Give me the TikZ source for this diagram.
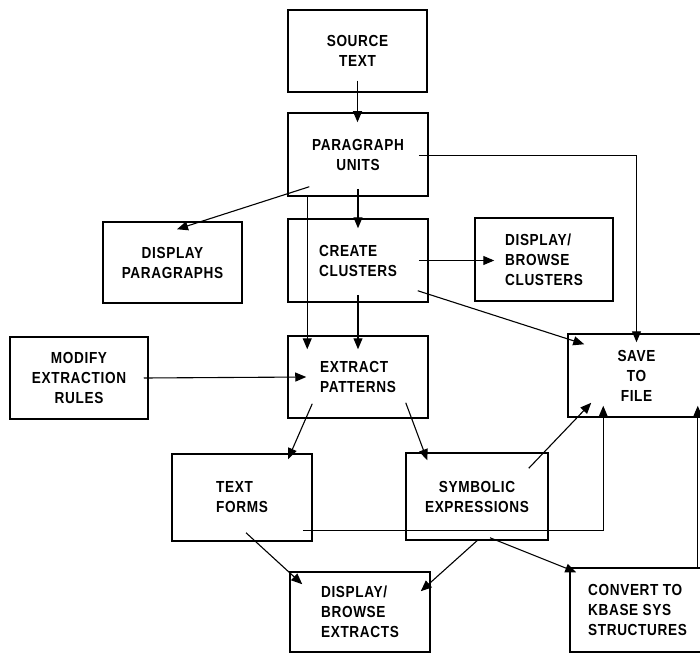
\documentclass[tikz,border=0pt]{standalone}
\usepackage{fontspec}
\setmainfont{Liberation Sans}[FakeStretch=0.85,LetterSpace=4]
\usetikzlibrary{arrows.meta,calc}
\begin{document}
\begin{tikzpicture}[x=1pt,y=-1pt,
  boxnode/.style={draw,line width=1.5pt,inner sep=0pt,
    font=\fontsize{16}{20}\selectfont\bfseries},
  conn/.style={line width=1.1pt,-{Triangle[length=11pt,width=9pt]}}]
\useasboundingbox (0,0) rectangle (700,655);
\fill[white] (0,0) rectangle (700,655);
% boxes
\node[boxnode,minimum width=139pt,minimum height=82pt,align=center] (src) at (357.5,51) {SOURCE\\TEXT};
\node[boxnode,minimum width=140pt,minimum height=83pt,align=center] (par) at (358,154.5) {PARAGRAPH\\UNITS};
\node[boxnode,minimum width=139pt,minimum height=81pt,align=center] (dpar) at (172.5,262.5) {DISPLAY\\PARAGRAPHS};
\node[boxnode,minimum width=140pt,minimum height=83pt,align=left] (cc) at (358,260.5) {CREATE\\CLUSTERS};
\node[boxnode,minimum width=138pt,minimum height=83pt,align=left] (dbc) at (544,259.5) {DISPLAY/\\BROWSE\\CLUSTERS};
\node[boxnode,minimum width=138pt,minimum height=82pt,align=center] (mod) at (79,378) {MODIFY\\EXTRACTION\\RULES};
\node[boxnode,minimum width=140pt,minimum height=82pt,align=left] (ext) at (358,377) {EXTRACT\\PATTERNS};
\node[boxnode,minimum width=137pt,minimum height=83pt,align=center] (save) at (636.5,375.5) {SAVE\\TO\\FILE};
\node[boxnode,minimum width=140pt,minimum height=87pt,align=left] (tf) at (242,497.5) {TEXT\\FORMS};
\node[boxnode,minimum width=142pt,minimum height=87pt,align=center] (sym) at (477,496.5) {SYMBOLIC\\EXPRESSIONS};
\node[boxnode,minimum width=140pt,minimum height=80pt,align=left] (dbe) at (360,612) {DISPLAY/\\BROWSE\\EXTRACTS};
\node[boxnode,minimum width=135pt,minimum height=84pt,align=left] (conv) at (637.5,610) {CONVERT TO\\ KBASE SYS\\STRUCTURES};
% connectors
\draw[conn] ($(src.south)+(0,-12)$) -- ($(par.north)+(-0.5,10)$);
\draw[conn] ($(par.south)+(0,-8)$) -- ($(cc.north)+(0,10)$);
\draw[conn] ($(par.south west)+(22,-10)$) -- ($(dpar.north)+(4.5,8)$);
\draw[conn] ($(par.east)+(-10,1)$) -| ($(save.north)+(0,9)$);
\draw[conn] ($(cc.east)+(-10,0)$) -- ($(dbc.west)+(20,1)$);
\draw[conn] ($(par.south west)+(20,0)$) -- ($(ext.north west)+(20,14)$);
\draw[conn] ($(cc.south)+(0,-8)$) -- ($(ext.north)+(0,14)$);
\draw[conn] ($(cc.south east)+(-11,-12)$) -- ($(save.north west)+(17,11)$);
\draw[conn] ($(mod.east)+(-5,0)$) -- ($(ext.west)+(19,0)$);
\draw[conn] ($(ext.south west)+(25,-15)$) -- ($(tf.north)+(46,6)$);
\draw[conn] ($(ext.south east)+(-23,-16)$) -- ($(sym.north west)+(22,8)$);
\draw[conn] ($(sym.north east)+(-20,16)$) -- ($(save.south west)+(24,-15)$);
\draw[conn] ($(tf.south east)+(-10,-11)$) -| ($(save.south west)+(36,-12)$);
\draw[conn] ($(tf.south)+(4,-9)$) -- ($(dbe.north west)+(13,13)$);
\draw[conn] (sym.south) -- ($(dbe.north east)+(-10,20)$);
\draw[conn] ($(sym.south)+(13,-3)$) -- ($(conv.north west)+(7,5)$);
\draw[conn] ($(conv.north east)+(-8,0)$) -- ($(save.south east)+(-8,-12)$);
\end{tikzpicture}
\end{document}
